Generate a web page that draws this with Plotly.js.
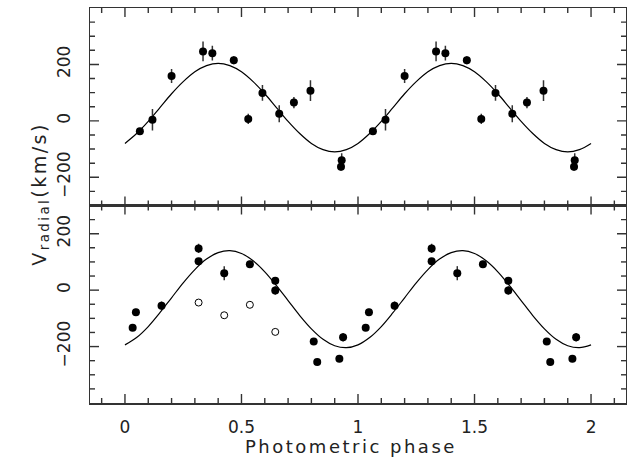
<!DOCTYPE html>
<html>
<head>
<meta charset="utf-8">
<script src="https://cdn.plot.ly/plotly-3.0.1.min.js"></script>
<style>
  html, body { margin: 0; padding: 0; background: #fff; }
  #chart { width: 627px; height: 464px; }
  .annotation-text { letter-spacing: 2.5px; }
</style>
</head>
<body>
<div id="chart"></div>
<script>
// ---- Top panel: measured radial velocities (one cycle, repeated at phase+1)
const topPhase = [0.064, 0.118, 0.200, 0.335, 0.375, 0.467, 0.529, 0.590, 0.662, 0.725, 0.796, 0.930, 0.927];
const topVel   = [-37, 4, 159, 246, 240, 215, 7, 99, 25, 65, 107, -140, -163];
const topErr   = [10, 38, 25, 35, 26, 14, 18, 28, 30, 20, 37, 25, 14];

// ---- Bottom panel: measured radial velocities (filled)
const botPhase = [0.033, 0.047, 0.157, 0.316, 0.316, 0.426, 0.536, 0.645, 0.645, 0.810, 0.825, 0.920, 0.936];
const botVel   = [-133, -78, -55, 148, 102, 60, 92, 33, -1, -182, -255, -243, -167];
const botErr   = [8, 12, 15, 16, 10, 25, 12, 10, 15, 8, 8, 12, 15];

// ---- Bottom panel: open circles (first cycle only)
const openPhase = [0.316, 0.426, 0.536, 0.645];
const openVel   = [-44, -89, -52, -148];

// ---- Model curves
const curvePhase = [0,0.05,0.1,0.15,0.2,0.25,0.3,0.35,0.4,0.45,0.5,0.55,0.6,0.65,0.7,0.75,0.8,0.85,0.9,0.95,
                    1,1.05,1.1,1.15,1.2,1.25,1.3,1.35,1.4,1.45,1.5,1.55,1.6,1.65,1.7,1.75,1.8,1.85,1.9,1.95,2];
const topCurve = [-80,-45,-2,47,96,139,174,196,204,196,174,139,96,47,-2,-45,-80,-102,-110,-102,
                  -80,-45,-2,47,96,139,174,196,204,196,174,139,96,47,-2,-45,-80,-102,-110,-102,-80];
const botCurve = [-194,-168,-129,-80,-27,26,73,110,133,140,130,104,65,16,-37,-90,-137,-174,-197,-204,
                  -194,-168,-129,-80,-27,26,73,110,133,140,130,104,65,16,-37,-90,-137,-174,-197,-204,-194];

// ---- Tick labels and tick mark positions
const xTickVals = [0, 0.5, 1, 1.5, 2];
const xTickText = ['0', '0.5', '1', '1.5', '2'];
const yTickVals = [-200, 0, 200];
const xMarkVals = [-0.1,0,0.1,0.2,0.3,0.4,0.5,0.6,0.7,0.8,0.9,1,1.1,1.2,1.3,1.4,1.5,1.6,1.7,1.8,1.9,2,2.1];
const yTopMarks = [-250,-200,-150,-100,-50,0,50,100,150,200,250,300,350];
const yBotMarks = [-350,-300,-250,-200,-150,-100,-50,0,50,100,150,200,250];

const twoCycles = a => a.concat(a.map(p => p + 1));
const repeat = a => a.concat(a);

const FONT = 'DejaVu Sans, Liberation Sans, sans-serif';
const INK = '#222';
const LINE = '#333';

const traces = [
  { x: curvePhase, y: topCurve, xaxis: 'x', yaxis: 'y', mode: 'lines',
    line: { color: '#000', width: 1.2, shape: 'spline', smoothing: 1 }, hoverinfo: 'skip' },
  { x: twoCycles(topPhase), y: repeat(topVel), xaxis: 'x', yaxis: 'y', mode: 'markers',
    marker: { color: '#000', size: 8 },
    error_y: { type: 'data', array: repeat(topErr), visible: true, color: '#333', thickness: 1.5, width: 0 } },
  { x: curvePhase, y: botCurve, xaxis: 'x2', yaxis: 'y2', mode: 'lines',
    line: { color: '#000', width: 1.2, shape: 'spline', smoothing: 1 }, hoverinfo: 'skip' },
  { x: twoCycles(botPhase), y: repeat(botVel), xaxis: 'x2', yaxis: 'y2', mode: 'markers',
    marker: { color: '#000', size: 8 },
    error_y: { type: 'data', array: repeat(botErr), visible: true, color: '#333', thickness: 1.5, width: 0 } },
  { x: openPhase, y: openVel, xaxis: 'x2', yaxis: 'y2', mode: 'markers',
    marker: { color: '#fff', size: 7, line: { color: '#000', width: 1 } } }
];

// Tick marks drawn as shapes in axis coordinates (inside, on all four sides)
const PANEL_H = 197.5, PANEL_W = 536;
const shapes = [];
const tickLine = { color: LINE, width: 1.4 };
function xMarks(xr, yr) {
  xMarkVals.forEach(v => {
    const major = xTickVals.some(t => Math.abs(t - v) < 1e-9);
    const f = (major ? 9 : 5) / PANEL_H;
    shapes.push({ type: 'line', layer: 'above', xref: xr, yref: yr + ' domain', x0: v, x1: v, y0: 0, y1: f, line: tickLine });
    shapes.push({ type: 'line', layer: 'above', xref: xr, yref: yr + ' domain', x0: v, x1: v, y0: 1, y1: 1 - f, line: tickLine });
  });
}
function yMarks(xr, yr, vals) {
  vals.forEach(v => {
    const major = yTickVals.indexOf(v) >= 0;
    const f = (major ? 9 : 5) / PANEL_W;
    shapes.push({ type: 'line', layer: 'above', xref: xr + ' domain', yref: yr, x0: 0, x1: f, y0: v, y1: v, line: tickLine });
    shapes.push({ type: 'line', layer: 'above', xref: xr + ' domain', yref: yr, x0: 1, x1: 1 - f, y0: v, y1: v, line: tickLine });
  });
}
xMarks('x', 'y'); xMarks('x2', 'y2');
yMarks('x', 'y', yTopMarks); yMarks('x2', 'y2', yBotMarks);

const xCommon = {
  range: [-0.15, 2.15], tickmode: 'array', tickvals: xTickVals, ticktext: xTickText,
  ticks: '', showline: true, mirror: true, linecolor: LINE, linewidth: 1.5,
  showgrid: false, zeroline: false,
  tickfont: { family: FONT, size: 17, color: INK }
};
const yCommon = {
  tickmode: 'array', tickvals: yTickVals,
  ticks: '', showline: true, mirror: true, linecolor: LINE, linewidth: 1.5,
  showgrid: false, zeroline: false, tickangle: -90, ticklabelstandoff: 12,
  tickfont: { family: FONT, size: 17, color: INK }
};

const layout = {
  width: 627, height: 464,
  margin: { l: 90, r: 1, t: 8, b: 61 },
  paper_bgcolor: '#fff', plot_bgcolor: 'rgba(0,0,0,0)',
  showlegend: false,
  xaxis: Object.assign({}, xCommon, { anchor: 'y', showticklabels: false }),
  xaxis2: Object.assign({}, xCommon, { anchor: 'y2', matches: 'x', showticklabels: true, ticklabelstandoff: 8 }),
  yaxis: Object.assign({}, yCommon, { domain: [0.5, 1], range: [-300, 400], anchor: 'x' }),
  yaxis2: Object.assign({}, yCommon, { domain: [0, 0.5], range: [-400, 300], anchor: 'x2' }),
  shapes: shapes,
  annotations: [
    { text: 'Photometric phase', xref: 'paper', yref: 'paper', x: 0.487, y: -0.109,
      xanchor: 'center', yanchor: 'middle', showarrow: false,
      font: { family: FONT, size: 18, color: INK } },
    { text: 'V<sub>radial</sub>(km/s)', xref: 'paper', yref: 'paper', x: -0.093, y: 0.53,
      xanchor: 'center', yanchor: 'middle', showarrow: false, textangle: -90,
      font: { family: FONT, size: 19, color: INK } }
  ]
};

Plotly.newPlot('chart', traces, layout, { staticPlot: true, displayModeBar: false });
</script>
</body>
</html>
